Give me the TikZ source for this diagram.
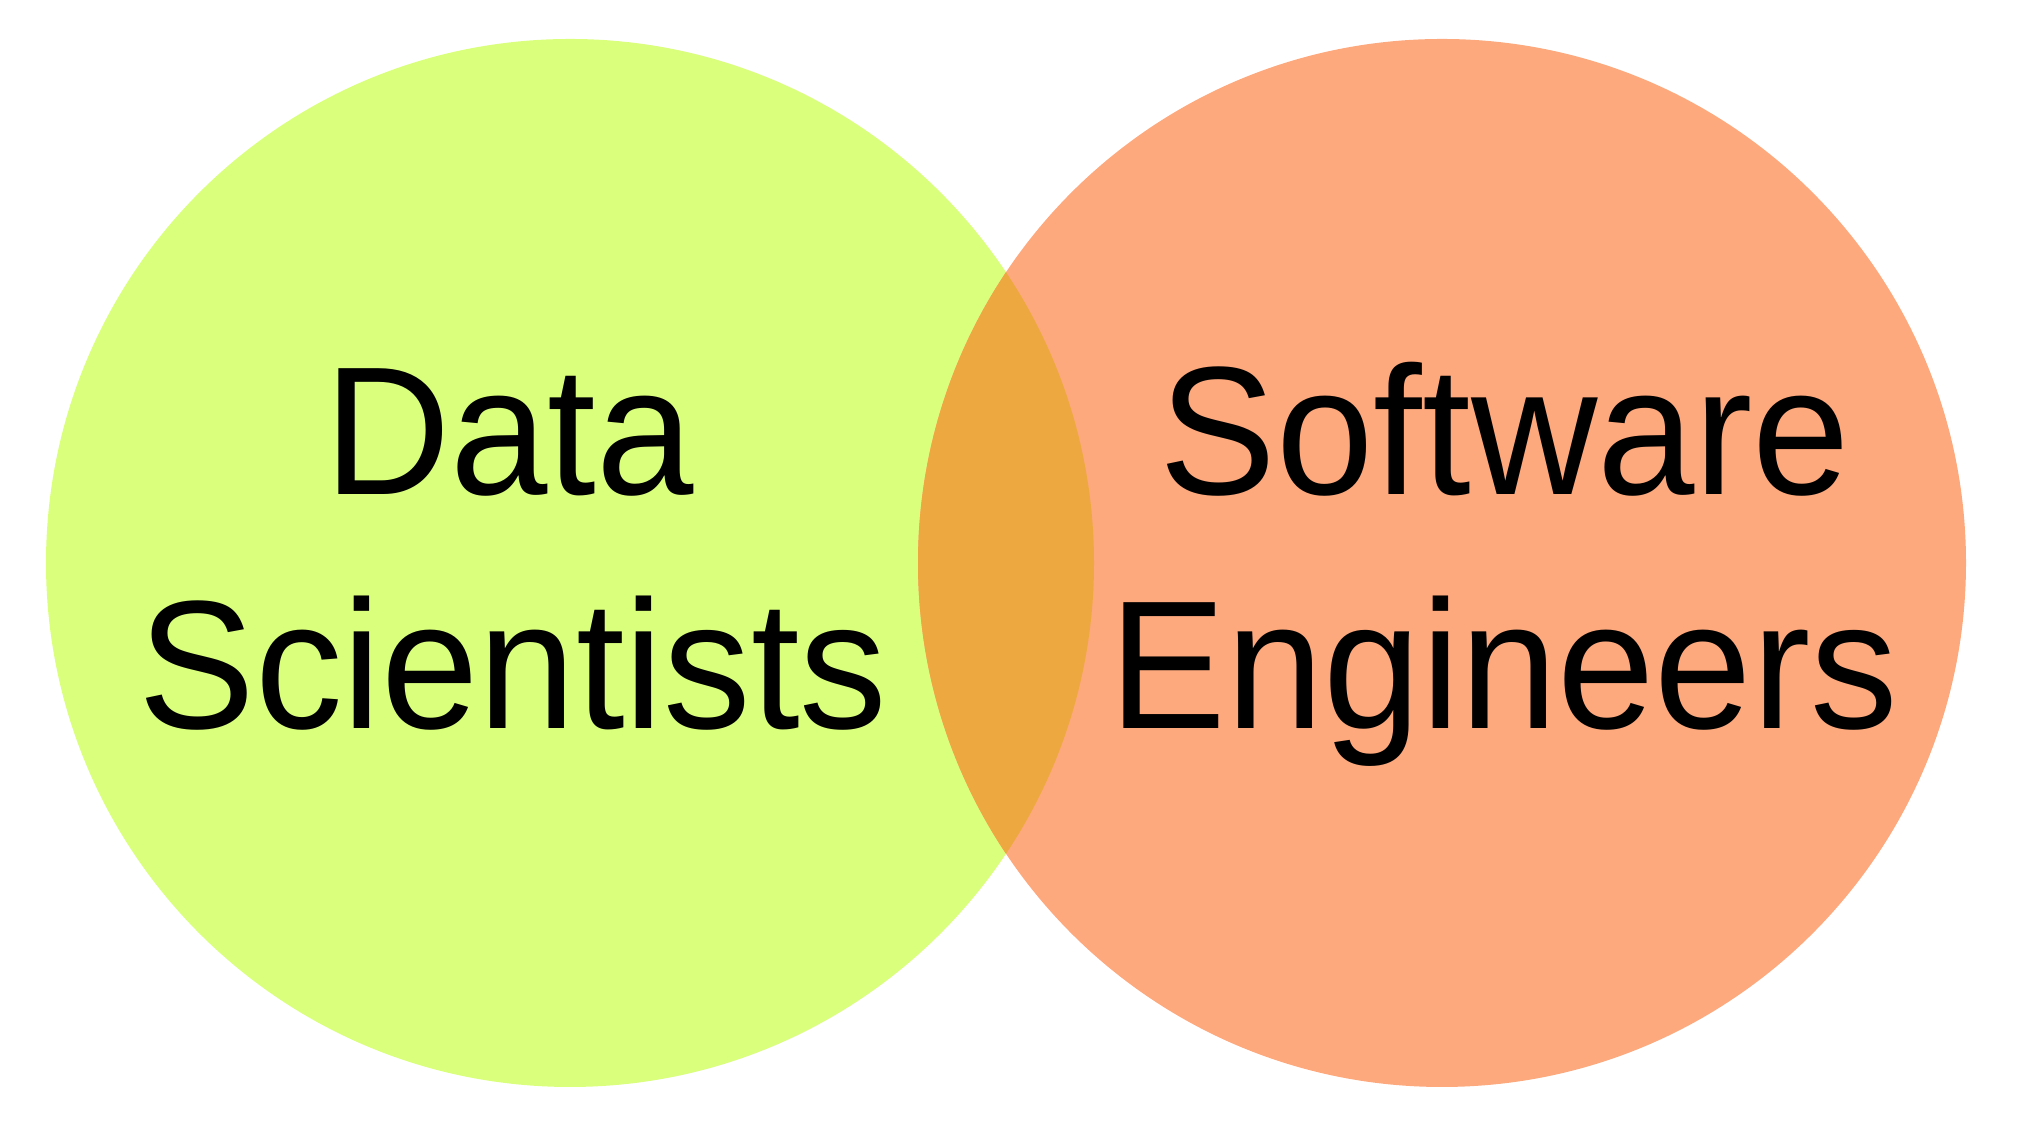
\documentclass[tikz,border=0pt]{standalone}
\usepackage{fontspec}
\setmainfont{Liberation Sans}
\definecolor{dsgreen}{RGB}{218,255,125}
\definecolor{seorange}{RGB}{253,168,125}
\definecolor{bothorange}{RGB}{237,168,63}
\begin{document}
\begin{tikzpicture}
    \useasboundingbox (0,0) rectangle (20.31,11.41);
    \fill[color=dsgreen] (5.70,5.78) circle (5.24);
    \fill[color=seorange] (14.42,5.78) circle (5.24);
    % overlap of the two sets
    \begin{scope}
        \clip (5.70,5.78) circle (5.24);
        \fill[color=bothorange] (14.42,5.78) circle (5.24);
    \end{scope}
    \foreach \n/\x/\y/\t in {data/5.09/6.46/Data, sci/5.13/4.12/Scientists, soft/15.05/6.46/Software, eng/15.04/4.12/Engineers} {
        \node[anchor=base, yscale=1.045, transform shape, font=\fontsize{49.8}{60}\selectfont] (\n) at (\x,\y) {\t};
    }
\end{tikzpicture}
\end{document}
